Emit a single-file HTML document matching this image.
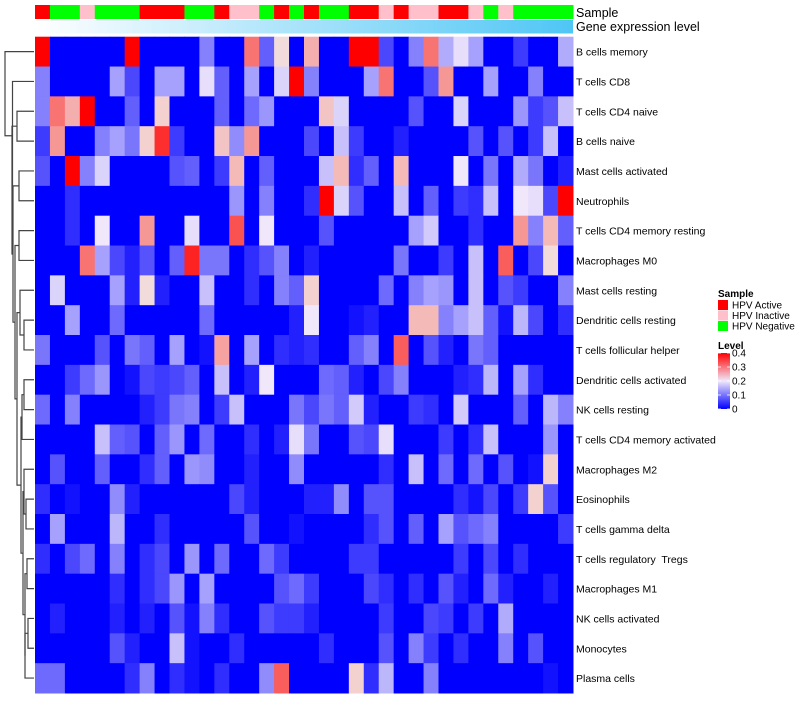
<!DOCTYPE html>
<html><head><meta charset="utf-8"><style>
body{margin:0;background:#fff;font-family:"Liberation Sans",sans-serif;}
svg text{font-family:"Liberation Sans",sans-serif;white-space:pre;}
</style></head><body>
<svg id="c" width="800" height="700" xmlns="http://www.w3.org/2000/svg"></svg>
<script>
const rowLabels=["B cells memory","T cells CD8","T cells CD4 naive","B cells naive","Mast cells activated","Neutrophils","T cells CD4 memory resting","Macrophages M0","Mast cells resting","Dendritic cells resting","T cells follicular helper","Dendritic cells activated","NK cells resting","T cells CD4 memory activated","Macrophages M2","Eosinophils","T cells gamma delta","T cells regulatory  Tregs","Macrophages M1","NK cells activated","Monocytes","Plasma cells"];
const sampleCodes=["A","N","N","I","N","N","N","A","A","A","N","N","A","I","I","N","A","N","A","N","N","A","A","I","A","I","I","A","A","I","N","I","N","N","N","N"];
const r0=[.4,0,0,0,0,0,.4,0,0,0,0,.1,0,0,.3,.07,.21,0,.25,0,0,.4,.4,.05,0,.1,.3,.14,.19,.13,0,0,.04,0,0,.14];
const r1=[.1,0,0,0,0,.13,.05,0,.13,.13,0,.19,.07,0,.13,0,.18,.4,.1,0,0,0,.13,.3,0,0,.06,.27,0,0,.13,0,0,.1,0,0];
const r2=[.1,.3,.25,.4,0,0,.07,0,.22,0,0,0,.07,0,.08,.12,0,0,0,.23,.18,0,0,0,0,.06,0,0,.18,0,0,0,.12,.04,.06,.16];
const r3=[.04,.27,0,0,.1,.13,.09,.22,.36,.04,0,0,.23,.11,.27,0,0,0,.05,0,.16,.04,0,0,.02,0,0,0,0,.06,0,.06,0,.04,.16,0];
const r4=[.06,0,.4,.1,.18,0,0,0,0,.06,.07,0,.04,.24,0,.07,0,0,0,.16,.24,.03,.07,0,.24,0,0,0,.2,0,.09,0,.14,.09,0,.02];
const r5=[0,0,.03,0,0,0,0,0,0,0,0,0,0,.12,0,.1,0,0,.03,.4,.18,.06,0,0,.16,0,.07,0,.04,.03,.16,0,.2,.19,.05,.4];
const r6=[0,0,.03,0,.2,0,0,.27,0,0,.19,0,0,.33,0,.2,0,0,0,.06,0,0,0,0,0,.13,.17,0,0,.03,0,0,.27,.1,.24,.07];
const r7=[0,0,0,.3,.13,.05,.02,.06,0,.07,.37,.09,.09,0,.03,.06,.1,0,.02,0,0,0,0,0,.09,0,0,.04,0,.16,0,.32,0,.05,.21,0];
const r8=[0,.18,0,0,0,.13,.02,.21,.02,0,0,.16,0,0,.03,0,.1,.07,.22,0,0,0,0,.08,0,.1,.13,.12,0,.16,0,.06,.04,0,0,.1];
const r9=[0,0,.13,0,0,.08,0,0,0,0,0,.08,0,0,0,0,0,.02,.2,0,0,.01,.02,0,0,.24,.24,.1,.13,.16,.07,.01,.15,.05,0,.03];
const r10=[.09,0,0,0,.06,0,.09,.07,0,.13,0,.01,.26,0,.13,0,.03,.02,.03,0,0,.07,.1,0,.32,0,.06,.02,0,.09,.07,0,0,0,0,0];
const r11=[0,0,.04,.08,.12,0,.01,.05,.04,.05,.07,0,.16,0,.02,.2,0,0,0,.08,.07,.02,0,.05,.1,0,0,0,.02,.03,.15,0,.13,.03,0,0];
const r12=[.08,0,.1,0,0,0,0,.02,.04,.09,.1,0,.04,.16,0,0,0,.09,.05,.09,.07,.17,.02,0,0,.04,.03,0,.17,0,0,0,.07,0,.15,.1];
const r13=[0,0,0,0,.16,.07,.06,0,.07,.12,0,.08,0,0,.03,0,.02,.19,.09,0,0,.06,.05,.19,0,0,0,.04,0,.03,.16,0,0,0,.12,0];
const r14=[0,.06,0,0,.07,0,0,.03,.07,0,.12,.11,0,0,.02,0,0,.11,0,0,0,0,0,.03,0,.16,0,.08,0,.08,0,.06,0,.01,.22,0];
const r15=[.03,0,.01,0,0,.11,.02,0,0,0,0,0,0,.05,.02,0,0,0,.02,.02,.11,0,.06,.06,0,0,0,0,.03,.01,.05,0,.04,.22,.06,0];
const r16=[0,.13,0,0,0,.15,0,0,.03,0,0,0,0,0,.06,0,0,.01,0,0,0,0,.03,.06,0,.07,0,.13,.06,.08,.1,0,0,0,0,.04];
const r17=[.03,0,.05,.08,0,.1,0,.03,.05,0,.12,0,.08,0,0,.08,.04,0,0,0,0,.04,.04,0,0,0,0,0,.04,0,.05,0,.03,0,0,0];
const r18=[0,0,0,0,0,.03,0,.03,.05,.12,0,.13,0,0,0,0,.06,.08,.04,0,0,0,.05,.03,0,.03,0,.06,.02,0,.08,.02,0,0,.02,0];
const r19=[0,.02,0,0,0,.02,0,.02,0,.06,.01,.1,.03,0,0,.06,.04,.04,.02,0,0,0,0,.04,0,0,.05,.04,0,.04,0,.14,0,0,0,0];
const r20=[0,0,0,0,0,.06,.02,0,0,.16,.01,0,0,.03,0,0,0,0,0,.03,0,0,0,.06,0,.1,.04,0,.03,0,0,.1,0,.06,0,0];
const r21=[.08,.08,0,0,0,0,.03,.1,0,.03,.01,0,.03,0,0,.11,.32,0,0,0,0,.22,.03,.15,0,0,.1,0,0,0,0,0,0,0,.01,0];
const values=[r0,r1,r2,r3,r4,r5,r6,r7,r8,r9,r10,r11,r12,r13,r14,r15,r16,r17,r18,r19,r20,r21];
const legendTicks=[0,0.1,0.2,0.3,0.4];

const NS="http://www.w3.org/2000/svg";
const svg=document.getElementById('c');
function mk(t,a,p){const e=document.createElementNS(NS,t);for(const k in a)e.setAttribute(k,a[k]);(p||svg).appendChild(e);return e;}
const X0=35,X1=573,Y0=36.7,Y1=693;
const nC=sampleCodes.length,nR=rowLabels.length;
const cw=(X1-X0)/nC,rh=(Y1-Y0)/nR;
const xPos=i=>X0+i*cw, yPos=j=>Y0+j*rh;
function col(v){
  const t=Math.max(0,Math.min(0.4,v));
  let r,g,b;
  if(t<=0.2){const f=Math.pow(t/0.2,0.85);r=Math.round(240*f);g=Math.round(232*f);b=Math.round(255-5*f);}
  else{const f=(t-0.2)/0.2;r=Math.round(240+15*f);g=Math.round(232*(1-f));b=Math.round(230*(1-f));}
  return `rgb(${r},${g},${b})`;
}
const sampleColor={A:"#ff0000",I:"#ffc0cb",N:"#00ff00"};
for(let i=0;i<nC;i++){
  const e=mk('rect',{x:xPos(i),y:5,width:cw+0.5,height:14,fill:sampleColor[sampleCodes[i]]});
  
  
}
const defs=mk('defs',{});
const lg=mk('linearGradient',{id:'gg',x1:0,x2:1,y1:0,y2:0},defs);
mk('stop',{offset:0,'stop-color':'#ffffff'},lg);mk('stop',{offset:1,'stop-color':'#4fc6f5'},lg);
const gbar=mk('rect',{x:X0,y:20,width:X1-X0,height:13.5,fill:'url(#gg)'});


let t=mk('text',{x:576,y:17,'font-size':12.5,fill:'#000'});t.textContent='Sample';

t=mk('text',{x:576,y:31,'font-size':12.5,fill:'#000'});t.textContent='Gene expression level';

for(let j=0;j<nR;j++){
  for(let i=0;i<nC;i++){
    const e=mk('rect',{x:xPos(i),y:yPos(j),width:cw+0.5,height:rh+0.5,fill:col(values[j][i])});
    
    
  }
  const l=mk('text',{x:576,y:yPos(j)+rh/2+4,'font-size':10.5,fill:'#000'});
  l.textContent=rowLabels[j];
  
  
}
const merges=[[2,3,17],[4,5,19],[6,7,19],[9,10,24],[8,25,20],[11,12,24],[13,27,22],[15,16,26],[14,29,24],[17,18,27],[19,20,28],[32,21,25],[31,33,25],[30,34,23],[28,35,21],[26,36,17],[24,37,15],[23,38,13],[22,39,12],[1,40,12.5],[0,41,5]];
const nx={},ny={};
for(let j=0;j<nR;j++){nx[j]=34;ny[j]=yPos(j)+rh/2;}
const dg=mk('g',{stroke:'#444','stroke-width':1.2,fill:'none'});


merges.forEach((m,k)=>{
  const id=nR+k,[a,b,x]=m;
  mk('path',{d:`M${nx[a]},${ny[a]}H${x}V${ny[b]}H${nx[b]}`},dg);
  nx[id]=x;ny[id]=(ny[a]+ny[b])/2;
});
t=mk('text',{x:718,y:297,'font-size':10,'font-weight':'bold'});t.textContent='Sample';

[["A","HPV Active"],["I","HPV Inactive"],["N","HPV Negative"]].forEach((s,k)=>{
  const r=mk('rect',{x:718,y:300+k*10.5,width:10,height:10,fill:sampleColor[s[0]]});
  
  const tx=mk('text',{x:732,y:308.5+k*10.5,'font-size':10});tx.textContent=s[1];
  
});
t=mk('text',{x:718,y:349,'font-size':10,'font-weight':'bold'});t.textContent='Level';

const lg2=mk('linearGradient',{id:'lv',x1:0,x2:0,y1:1,y2:0},defs);
mk('stop',{offset:0,'stop-color':'#0000ff'},lg2);mk('stop',{offset:0.5,'stop-color':'#f0e8fa'},lg2);mk('stop',{offset:1,'stop-color':'#ff0000'},lg2);
const LB0=409,LB1=353;
const cb=mk('rect',{x:718,y:LB1,width:12,height:LB0-LB1,fill:'url(#lv)'});

legendTicks.forEach(v=>{
  const y=LB0-(v/0.4)*(LB0-LB1);
  mk('line',{x1:718,x2:721,y1:y,y2:y,stroke:'#fff','stroke-width':0.8});
  mk('line',{x1:727,x2:730,y1:y,y2:y,stroke:'#fff','stroke-width':0.8});
  const tx=mk('text',{x:732,y:y+3.5,'font-size':10});tx.textContent=String(v);
  
});
</script>
</body></html>
